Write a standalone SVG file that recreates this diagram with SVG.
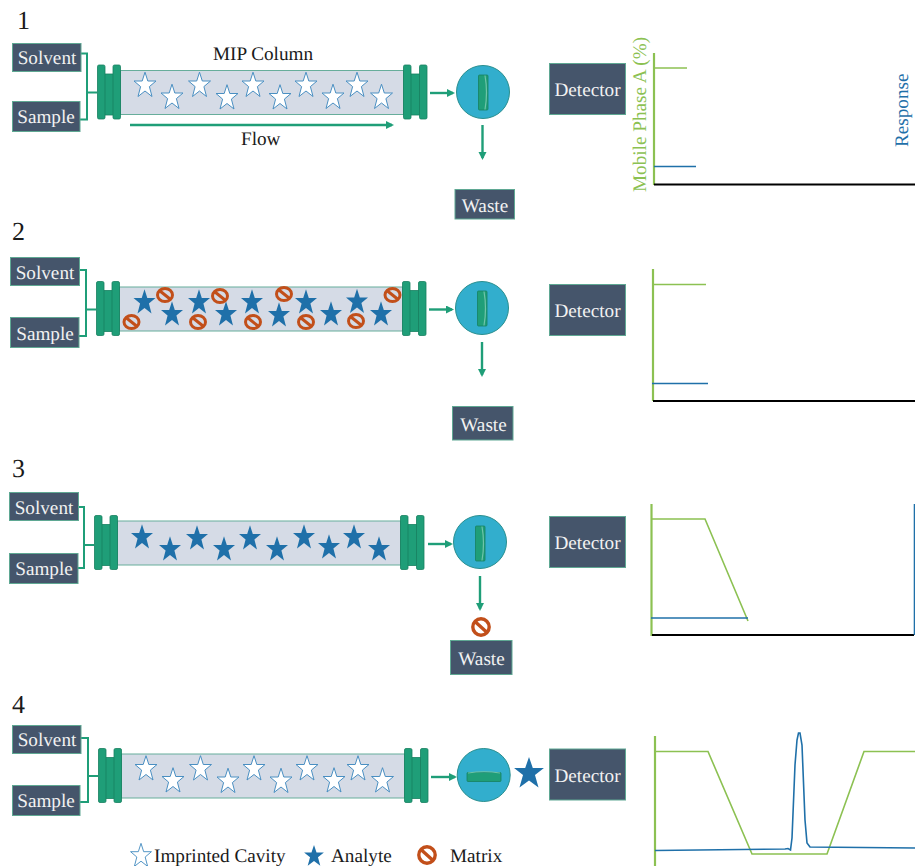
<svg xmlns="http://www.w3.org/2000/svg" width="915" height="866" viewBox="0 0 915 866">
<style>
text{font-family:"Liberation Serif","Times New Roman",serif;font-size:19.2px;fill:#1a1a1a;text-rendering:geometricPrecision}
.box{fill:#45556b;stroke:#5fa893;stroke-width:1}
.lbl{fill:#f2f2f2;text-anchor:middle}
.num{font-size:26px}
.tube{fill:#d5dbe6;stroke:#67ad9b;stroke-width:1}
.fl{fill:#1f9e78;stroke:#178060;stroke-width:.8}
.valve{fill:#32aecd;stroke:#2a8f8f;stroke-width:1}
.brk{fill:none;stroke:#1f9e78;stroke-width:2}
.arr{fill:none;stroke:#1f9e78;stroke-width:2.4;marker-end:url(#ah)}
.cav{fill:#fff;stroke:#4a8fc2;stroke-width:1}
.ana{fill:#1f70a9}
.mat{fill:none;stroke:#c24f1a;stroke-width:3}
.gax{stroke:#8cc152;stroke-width:2.2;fill:none}
.gl{stroke:#8cc152;stroke-width:1.6;fill:none}
.bl{stroke:#1f70a9;stroke-width:1.6;fill:none}
.kax{stroke:#000;stroke-width:2;fill:none}
</style>
<defs>
<marker id="ah" markerWidth="9" markerHeight="9" refX="6" refY="4" orient="auto" markerUnits="userSpaceOnUse"><path d="M0 0L8 4L0 8z" fill="#1f9e78"/></marker>
<polygon id="s" points="0,-12.800 2.800,-4 11,-4 4.400,1.600 7,11.500 0,6 -7,11.500 -4.400,1.600 -11,-4 -2.800,-4"/>
<g id="m"><ellipse class="mat" rx="7.500" ry="6.600"/><path class="mat" d="M-5.300-4.200L5.300 4.200"/></g>
<g id="mb"><circle class="mat" r="8.200" style="stroke-width:3.400"/><path class="mat" d="M-5.800-5.200L5.800 5.200" style="stroke-width:3.400"/></g>
<g id="col">
<rect class="tube" x="0" y="0" width="283" height="44"/>
<rect class="fl" x="-16" y="3.500" width="9" height="41"/><rect class="fl" x="-23" y="-5.500" width="7.500" height="54" rx="1.500"/><rect class="fl" x="-7.500" y="-5.500" width="7.500" height="54" rx="1.500"/>
<rect class="fl" x="290" y="3.500" width="9" height="41"/><rect class="fl" x="283" y="-5.500" width="7.500" height="54" rx="1.500"/><rect class="fl" x="299" y="-5.500" width="7.500" height="54" rx="1.500"/>
</g>
<g id="cv"><rect x="-4.500" y="-17.500" width="9.500" height="35" rx="1" fill="#1f9e78" stroke="#178060" stroke-width=".8"/><path d="M2-17Q5 0 2 17" fill="none" stroke="#6fc4a8" stroke-width="1.200"/></g>
<g id="ch"><rect x="-17" y="-4" width="34" height="9" rx="1" fill="#1f9e78" stroke="#178060" stroke-width=".8"/><path d="M-16-3.500Q0-6 16-3.500" fill="none" stroke="#6fc4a8" stroke-width="1.200"/></g>
<g id="cavs" class="cav"><use href="#s" x="24.500" y="14.500"/><use href="#s" x="51.500" y="26.500"/><use href="#s" x="79" y="14.500"/><use href="#s" x="106.500" y="27"/><use href="#s" x="132.500" y="14.500"/><use href="#s" x="159.500" y="27"/><use href="#s" x="185.500" y="14.500"/><use href="#s" x="212.500" y="26.500"/><use href="#s" x="236.500" y="14.500"/><use href="#s" x="261" y="26.500"/></g>
</defs>
<rect width="915" height="866" fill="#fff"/>

<g id="step-numbers"><text class="num" x="17" y="29">1</text><text class="num" x="12" y="240">2</text><text class="num" x="12" y="477">3</text><text class="num" x="12" y="713">4</text></g>

<g id="connectors">
<path class="brk" d="M81 53.500H87V119.500H80M87 92.500H97"/>
<path class="brk" d="M79 270H86V336H79M86 309.500H96"/>
<path class="brk" d="M78 507H84V568H78M84 545H94"/>
<path class="brk" d="M81 738H88V802H80M88 776H98"/>
<path class="arr" d="M130 125H392"/>
<path class="arr" d="M430 93H453"/><path class="arr" d="M482.500 125V158"/>
<path class="arr" d="M429 309.500H452"/><path class="arr" d="M482 342V375"/>
<path class="arr" d="M428 544H451"/><path class="arr" d="M480 576V609"/>
<path class="arr" d="M431 777H455"/>
</g>

<g id="row1">
<g id="solvent1"><rect class="box" x="12.500" y="43.500" width="68.500" height="28"/><text class="lbl" x="47" y="64">Solvent</text></g>
<g id="sample1"><rect class="box" x="12.500" y="101.500" width="67.500" height="30"/><text class="lbl" x="46" y="123">Sample</text></g>
<g id="column1"><use href="#col" x="120.500" y="70.500"/><use href="#cavs" x="120.500" y="70.500"/></g>
<text x="213" y="60">MIP Column</text><text x="241" y="145">Flow</text>
<g id="valve1"><circle class="valve" cx="483" cy="92" r="26.500"/><use href="#cv" x="483" y="92.500"/></g>
<g id="detector1"><rect class="box" x="549.500" y="63.500" width="76" height="51"/><text class="lbl" x="587.500" y="96">Detector</text></g>
<g id="waste1"><rect class="box" x="455" y="189.500" width="59.500" height="29.500"/><text class="lbl" x="485" y="212">Waste</text></g>
<g id="chart1"><path class="gax" d="M654 53V185"/><path class="gl" d="M654 68H687"/><path class="bl" d="M654 166.500H696"/><path class="kax" d="M654 184.500H915"/>
<text transform="translate(646 192) rotate(-90)" style="fill:#8cc152">Mobile Phase A (%)</text>
<text transform="translate(908 147) rotate(-90)" style="fill:#1f70a9">Response</text></g>
</g>

<g id="row2">
<g id="solvent2"><rect class="box" x="10.500" y="257.500" width="69" height="28"/><text class="lbl" x="45" y="279">Solvent</text></g>
<g id="sample2"><rect class="box" x="10.500" y="317.500" width="68.500" height="30"/><text class="lbl" x="45" y="340">Sample</text></g>
<g id="column2"><use href="#col" x="119.500" y="287"/>
<g class="ana"><use href="#s" x="144.500" y="302"/><use href="#s" x="172" y="314"/><use href="#s" x="199" y="302"/><use href="#s" x="226" y="314"/><use href="#s" x="252" y="302"/><use href="#s" x="279" y="315"/><use href="#s" x="306" y="302"/><use href="#s" x="331" y="314"/><use href="#s" x="357" y="301.500"/><use href="#s" x="381" y="314"/></g>
<use href="#m" x="165" y="295"/><use href="#m" x="131.500" y="322"/><use href="#m" x="198" y="322"/><use href="#m" x="220" y="296"/><use href="#m" x="253" y="322"/><use href="#m" x="284" y="294"/><use href="#m" x="306" y="322"/><use href="#m" x="356" y="321"/><use href="#m" x="392.500" y="295"/></g>
<g id="valve2"><circle class="valve" cx="482" cy="308" r="26.500"/><use href="#cv" x="482" y="308.500"/></g>
<g id="detector2"><rect class="box" x="549.500" y="284.500" width="76" height="51"/><text class="lbl" x="587.500" y="317">Detector</text></g>
<g id="waste2"><rect class="box" x="452.500" y="406.500" width="60.500" height="33.500"/><text class="lbl" x="483.500" y="431">Waste</text></g>
<g id="chart2"><path class="gax" d="M653 269V401"/><path class="gl" d="M653 284.500H706"/><path class="bl" d="M652 383.500H708"/><path class="kax" d="M653 401H915"/></g>
</g>

<g id="row3">
<g id="solvent3"><rect class="box" x="9.500" y="492.500" width="69" height="28"/><text class="lbl" x="44" y="514">Solvent</text></g>
<g id="sample3"><rect class="box" x="9.500" y="553.500" width="68.500" height="30"/><text class="lbl" x="44" y="575">Sample</text></g>
<g id="column3"><use href="#col" x="117.500" y="521"/>
<g class="ana"><use href="#s" x="142" y="537"/><use href="#s" x="170" y="549"/><use href="#s" x="197" y="538"/><use href="#s" x="224" y="549"/><use href="#s" x="250" y="538"/><use href="#s" x="277" y="549"/><use href="#s" x="304" y="537"/><use href="#s" x="329" y="547"/><use href="#s" x="354" y="537"/><use href="#s" x="379" y="549"/></g></g>
<g id="valve3"><circle class="valve" cx="480" cy="542" r="26.500"/><use href="#cv" x="480" y="543.500"/></g>
<use id="matrix-waste" href="#mb" x="481" y="627"/>
<g id="detector3"><rect class="box" x="549.500" y="516.500" width="76" height="51"/><text class="lbl" x="587.500" y="549">Detector</text></g>
<g id="waste3"><rect class="box" x="450.500" y="640.500" width="61.500" height="34"/><text class="lbl" x="481.500" y="665">Waste</text></g>
<g id="chart3"><path class="gax" d="M651.500 504V636"/><path class="gl" d="M651 519H705L748 621"/><path class="bl" d="M651 618H748"/><path class="kax" d="M652 635H914"/><path class="bl" d="M914.500 504V635"/></g>
</g>

<g id="row4">
<g id="solvent4"><rect class="box" x="12.500" y="725.500" width="68.500" height="28"/><text class="lbl" x="47" y="746">Solvent</text></g>
<g id="sample4"><rect class="box" x="12.500" y="785.500" width="67.500" height="30"/><text class="lbl" x="46" y="807">Sample</text></g>
<g id="column4"><use href="#col" x="121.500" y="754"/><use href="#cavs" x="121.500" y="754"/></g>
<g id="valve4"><circle class="valve" cx="483.700" cy="775" r="26.500"/><use href="#ch" x="484" y="776.500"/></g>
<use id="analyte-out" class="ana" href="#s" transform="translate(529 773) scale(1.360 1.250)"/>
<g id="detector4"><rect class="box" x="549.500" y="749" width="76" height="51"/><text class="lbl" x="587.500" y="782">Detector</text></g>
<g id="chart4"><path class="gax" d="M655 736V866"/><path class="gl" d="M655 751.500H708L752 854H827L864 751.500H915"/><path class="bl" d="M655 850.500L785 849L788 848.500L790.500 850L792 838L795 765L797 740L798.500 733L800 733L802 745L805 820L807 843L810 847L915 848"/></g>
</g>

<g id="legend">
<use class="cav" href="#s" transform="translate(141 855.500) scale(.95)"/><text x="154" y="862">Imprinted Cavity</text>
<use class="ana" href="#s" transform="translate(314 856) scale(.9 .85)"/><text x="331" y="862">Analyte</text>
<use href="#mb" x="427" y="855"/><text x="450" y="862">Matrix</text>
</g>
</svg>
